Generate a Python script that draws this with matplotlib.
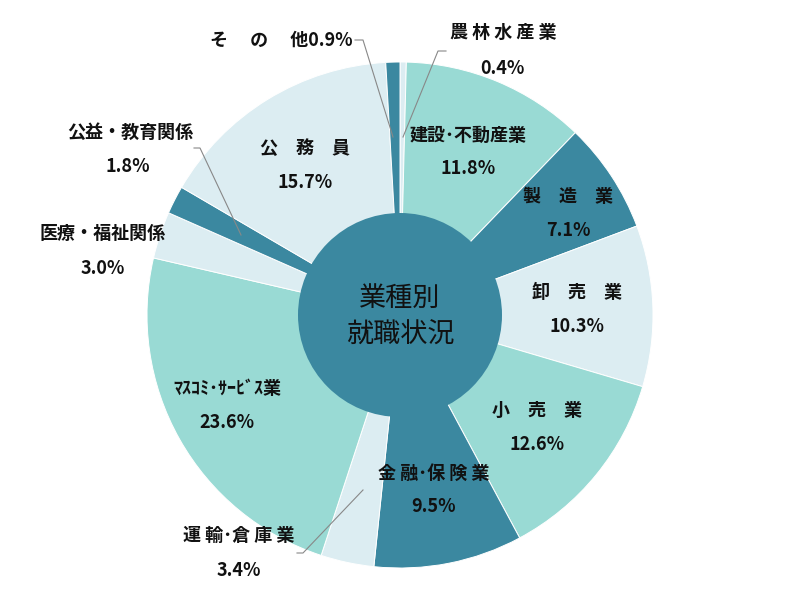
import matplotlib
matplotlib.use('Agg')
import matplotlib.pyplot as plt
from matplotlib.patches import Circle

plt.rcParams['font.family'] = ['Noto Sans CJK JP', 'DejaVu Sans']

# 業種別の割合（12時の位置から時計回り）
categories = ['農林水産業', '建設･不動産業', '製造業', '卸売業', '小売業', '金融･保険業',
              '運輸･倉庫業', 'ﾏｽｺﾐ･ｻｰﾋﾞｽ業', '医療・福祉関係', '公益・教育関係', '公務員', 'その他']
shares = [0.4, 11.8, 7.1, 10.3, 12.6, 9.5, 3.4, 23.6, 3.0, 1.8, 15.7, 0.9]

LIGHT = '#99dad4'
DARK = '#3b88a0'
PALE = '#dcedf2'
slice_colors = [PALE, LIGHT, DARK, PALE, LIGHT, DARK, PALE, LIGHT, PALE, DARK, PALE, DARK]

# 表示用テキスト
label_texts = ['農 林 水 産 業', '建設･不動産業', '製　造　業', '卸　売　業', '小　売　業', '金 融･保 険 業',
               '運 輸･倉 庫 業', 'ﾏｽｺﾐ･ｻｰﾋﾞｽ業', '医療・福祉関係', '公益・教育関係', '公　務　員', None]

W, H = 800, 600


def Y(y):
    # 画像座標（上から）を描画座標に変換
    return H - y


fig = plt.figure(figsize=(8, 6), dpi=100)
ax = fig.add_axes([0, 0, 1, 1])

cx, cy, r = 400, 315, 253
ax.pie(shares, colors=slice_colors, startangle=90, counterclock=False,
       radius=r, center=(cx, Y(cy)),
       wedgeprops=dict(edgecolor='white', linewidth=0.7))
ax.add_patch(Circle((cx, Y(cy)), 102, facecolor=DARK, edgecolor='none', zorder=5))

ax.text(cx, Y(298), '業種別', ha='center', va='center', fontsize=19.5, color='#111111', zorder=6)
ax.text(cx, Y(335), '就職状況', ha='center', va='center', fontsize=19.5, color='#111111', zorder=6)

# ラベル位置（名前の中心, 割合の中心）
label_pos = [(503, 32, 502, 68), (468, 135, 468, 168), (568, 197, 568, 231),
             (577, 292, 577, 327), (537, 410, 537, 445), (434, 473, 434, 507),
             (239, 535, 239, 571), (227, 388, 227, 423), (103, 233, 103, 268),
             (130, 132, 128, 167), (305, 148, 305, 182)]

fs = 13
wt = 'bold'
for txt, val, (nx, ny, px, py) in zip(label_texts, shares, label_pos):
    ax.text(nx, Y(ny), txt, ha='center', va='center', fontsize=fs, fontweight=wt,
            color='#111111', zorder=6)
    ax.text(px, Y(py), f'{val}%', ha='center', va='center', fontsize=fs, fontweight=wt,
            color='#111111', zorder=6)

ax.text(353, Y(40), f'そ　 の　 他{shares[-1]}%', ha='right', va='center', fontsize=fs,
        fontweight=wt, color='#111111', zorder=6)

# 引き出し線
leaders = [
    ([355, 363, 393], [40, 40, 137]),
    ([446, 438, 403], [51, 51, 137]),
    ([194, 200, 241], [148, 148, 235]),
    ([297, 303, 363], [553, 553, 490]),
]
for xs, ys in leaders:
    ax.plot(xs, [Y(v) for v in ys], color='#888888', linewidth=0.8, zorder=7)

ax.set_xlim(0, W)
ax.set_ylim(0, H)
ax.set_aspect('equal')
ax.axis('off')

plt.savefig('out.png', dpi=100)
